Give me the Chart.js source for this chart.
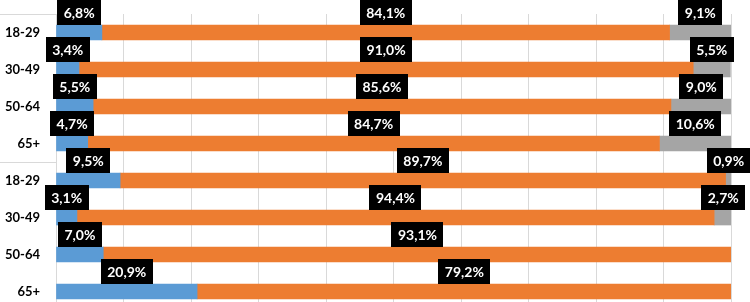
<!DOCTYPE html>
<html>
<head>
<meta charset="utf-8">
<script src="https://cdn.jsdelivr.net/npm/chart.js@4"></script>
<style>
  html, body { margin: 0; padding: 0; background: #fff; overflow: hidden; }
  #wrap { position: relative; width: 750px; height: 320px; }
</style>
</head>
<body>
<div id="wrap"><canvas id="chart"></canvas></div>
<script>
// categories (two groups of four age bands)
const categories = ['18-29', '30-49', '50-64', '65+', '18-29', '30-49', '50-64', '65+'];
const groupSizes = [4, 4];

// series values in %
const blueValues   = [6.8, 3.4, 5.5, 4.7, 9.5, 3.1, 7.0, 20.9];
const orangeValues = [84.1, 91.0, 85.6, 84.7, 89.7, 94.4, 93.1, 79.2];
const grayValues   = [9.1, 5.5, 9.0, 10.6, 0.9, 2.7, null, null];

const tickValues = [0, 10, 20, 30, 40, 50, 60, 70, 80, 90, 100];

const FONT = 'Lato, "Open Sans", sans-serif';

// black boxes with white text, sitting on top of each segment
const boxLabels = {
    id: 'boxLabels',
    afterDatasetsDraw(chart) {
        const ctx = chart.ctx;
        ctx.save();
        ctx.font = 'bold 14px ' + FONT;
        ctx.textAlign = 'center';
        ctx.textBaseline = 'middle';
        chart.data.datasets.forEach((ds, di) => {
            const meta = chart.getDatasetMeta(di);
            meta.data.forEach((el, i) => {
                const v = ds.data[i];
                if (v === null || v === 0) return;
                const p = el.getProps(['x', 'base', 'y', 'height'], true);
                const cx = (p.x + p.base) / 2;
                const text = v.toFixed(1).replace('.', ',') + '%';
                const w = ctx.measureText(text).width + 13;
                const h = 25;
                const top = p.y - p.height / 2 - h;
                ctx.fillStyle = '#000';
                ctx.fillRect(Math.round(cx - w / 2), Math.round(top), Math.round(w), h);
                ctx.fillStyle = '#fff';
                ctx.fillText(text, cx, top + h / 2 + 1);
            });
        });
        ctx.restore();
    }
};

// group separator lines left of the plot
const groupLines = {
    id: 'groupLines',
    afterDraw(chart) {
        const ctx = chart.ctx;
        const area = chart.chartArea;
        const band = (area.bottom - area.top) / categories.length;
        ctx.save();
        ctx.strokeStyle = '#D9D9D9';
        ctx.lineWidth = 1;
        let idx = 0;
        const ys = [area.top];
        groupSizes.forEach(n => { idx += n; ys.push(area.top + idx * band); });
        ys.forEach(y => {
            ctx.beginPath();
            ctx.moveTo(0, Math.round(y) + 0.5);
            ctx.lineTo(area.left, Math.round(y) + 0.5);
            ctx.stroke();
        });
        ctx.restore();
    }
};

const ctx = document.getElementById('chart').getContext('2d');
new Chart(ctx, {
    type: 'bar',
    data: {
        labels: categories,
        datasets: [
            { label: 'A', data: blueValues, backgroundColor: '#5B9BD5', barThickness: 15 },
            { label: 'B', data: orangeValues, backgroundColor: '#ED7D31', barThickness: 15 },
            { label: 'C', data: grayValues, backgroundColor: '#A5A5A5', barThickness: 15 }
        ]
    },
    options: {
        indexAxis: 'y',
        responsive: true,
        maintainAspectRatio: false,
        animation: false,
        layout: { padding: { top: 14, right: 19, bottom: 10, left: 0 } },
        scales: {
            x: {
                stacked: true,
                min: 0,
                max: 100,
                afterBuildTicks: scale => { scale.ticks = tickValues.map(v => ({ value: v })); },
                afterFit: scale => {
                    scale.height = 0;
                    scale.paddingLeft = 0;
                    scale.paddingRight = 0;
                },
                ticks: { display: false },
                grid: { color: '#D9D9D9', drawTicks: false },
                border: { display: false }
            },
            y: {
                stacked: true,
                afterFit: scale => {
                    scale.width = 56;
                    scale.paddingTop = 0;
                    scale.paddingBottom = 0;
                },
                grid: { display: false, drawTicks: false },
                border: { display: true, color: '#D9D9D9' },
                ticks: {
                    color: '#000',
                    padding: 16,
                    font: { family: FONT, size: 13, weight: 'bold' }
                }
            }
        },
        plugins: {
            legend: { display: false },
            tooltip: { enabled: false }
        }
    },
    plugins: [boxLabels, groupLines]
});
</script>
</body>
</html>
